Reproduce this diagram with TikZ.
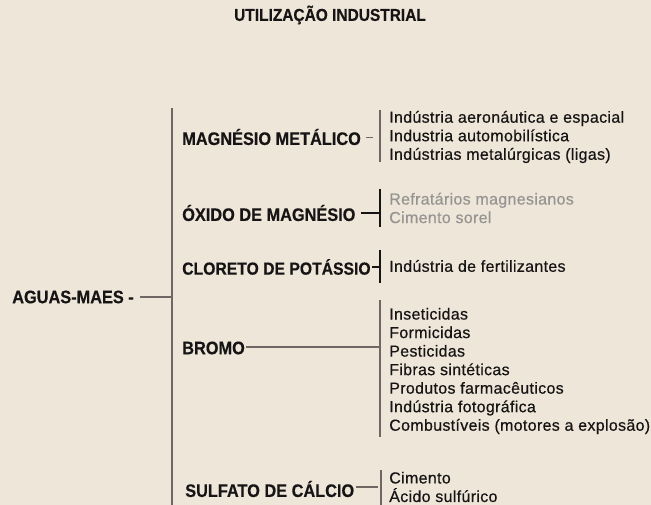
\documentclass[tikz,border=0pt]{standalone}
\usepackage{fontspec}
\setmainfont{Liberation Sans}
\newfontfamily\itemfont[LetterSpace=2, FakeBold=0.5]{Liberation Sans}
\newfontfamily\headfont[FakeStretch=0.9, FakeBold=0.4]{Liberation Sans}
\usepackage{tikz}
\usetikzlibrary{positioning,calc}
\definecolor{paperbg}{RGB}{238, 231, 217}
\definecolor{linegrey}{RGB}{112, 102, 100}
\definecolor{inkdark}{RGB}{22, 20, 20}
\definecolor{fadedgrey}{RGB}{150, 148, 146}

\begin{document}
\begin{tikzpicture}[x=0.75pt, y=-0.75pt,
    every node/.style={font=\fontsize{12}{13.9}\selectfont, text=inkdark, inner sep=0pt},
    head/.style={anchor=west, font=\headfont\fontsize{13.6}{15}\selectfont\bfseries},
    items/.style={anchor=west, align=left, font=\itemfont\fontsize{12}{13.9}\selectfont},
    trunk/.style={draw=linegrey, line width=1.1pt}]
    % Page
    \fill[paperbg] (0,0) rectangle (651,505);
    \useasboundingbox (0,0) rectangle (651,505);

    % Title
    \node[font=\headfont\fontsize{12.9}{14}\selectfont\bfseries] (title) at (330,15) {UTILIZAÇÃO INDUSTRIAL};

    % Main trunk
    \coordinate (trunktop) at (172,108);
    \coordinate (trunkbot) at (172,505);
    \draw[trunk] (trunktop) -- (trunkbot);
    \node[head] (aguas) at (12,297) {AGUAS-MAES -};
    \draw[trunk, line width=0.8pt] ($(aguas.east)+(6,0)$) -- (aguas.east -| trunktop);

    % Magnesio metalico
    \node[head] (mag) at (182,137) {MAGNÉSIO METÁLICO};
    \coordinate (magtop) at (380,110);
    \coordinate (magbot) at (380,162);
    \draw[trunk] (magtop) -- (magbot);
    \draw[trunk, line width=0.6pt] ($(mag.east)+(5,0)$) -- ($(mag.east -| magtop)+(-7,0)$);
    \node[items] (magitems) at (389,137) {Indústria aeronáutica e espacial\\Industria automobilística\\Indústrias metalúrgicas (ligas)};

    % Oxido de magnesio
    \node[head] (oxi) at (182,213) {ÓXIDO DE MAGNÉSIO};
    \coordinate (oxitop) at (380,189);
    \coordinate (oxibot) at (380,227);
    \draw[trunk, draw=inkdark, line width=0.8pt] (oxitop) -- (oxibot);
    \draw[trunk, draw=inkdark, line width=0.8pt] ($(oxi.east)+(5,0)$) -- (oxi.east -| oxitop);
    \node[items, text=fadedgrey] (oxiitems) at (389,208) {Refratários magnesianos\\Cimento sorel};

    % Cloreto de potassio
    \node[head, font=\headfont\fontsize{13.1}{15}\selectfont\bfseries] (clo) at (182,267) {CLORETO DE POTÁSSIO};
    \coordinate (clotop) at (380,250);
    \coordinate (clobot) at (380,283);
    \draw[trunk, draw=inkdark, line width=0.8pt] (clotop) -- (clobot);
    \draw[trunk, draw=inkdark, line width=0.8pt] ($(clo.east)+(1.5,0)$) -- (clo.east -| clotop);
    \node[items] (cloitems) at (389,266) {Indústria de fertilizantes};

    % Bromo
    \node[head] (bro) at (182,348) {BROMO};
    \coordinate (brotop) at (380,300);
    \coordinate (brobot) at (380,437);
    \draw[trunk] (brotop) -- (brobot);
    \draw[trunk] ($(bro.east)+(1,-1)$) -- ($(bro.east -| brotop)+(0,-1)$);
    \node[items] (broitems) at (389,371) {Inseticidas\\Formicidas\\Pesticidas\\Fibras sintéticas\\Produtos farmacêuticos\\Indústria fotográfica\\Combustíveis (motores a explosão)};

    % Sulfato de calcio
    \node[head] (sul) at (185,489) {SULFATO DE CÁLCIO};
    \coordinate (sultop) at (381,470);
    \coordinate (sulbot) at (381,505);
    \draw[trunk] (sultop) -- (sulbot);
    \draw[trunk, line width=0.8pt] ($(sul.east)+(2,-2)$) -- ($(sul.east -| sultop)+(-3,-2)$);
    \node[items] (sulitems) at (389,487) {Cimento\\Ácido sulfúrico};
\end{tikzpicture}
\end{document}
